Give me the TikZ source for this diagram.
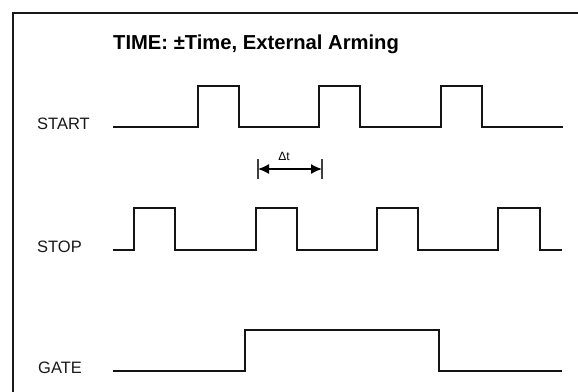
\documentclass[tikz,border=0pt]{standalone}
\usepackage{fontspec}
\setmainfont{Liberation Sans}
\usetikzlibrary{arrows.meta}
\begin{document}
\begin{tikzpicture}[x=1pt,y=-1pt,
  wave/.style={line width=2.6pt, line join=miter, line cap=butt, black!92},
  lbl/.style={anchor=base west, inner sep=0pt, font=\fontsize{16.5}{19}\selectfont, black!90},
  bar/.style={line width=1.4pt, black!75},
  dim/.style={line width=1.5pt, {Latex[length=11pt,width=10pt]}-{Latex[length=11pt,width=10pt]}}
 ]
\useasboundingbox (0,0) rectangle (578,391);
\clip (0,0) rectangle (578,391);
\fill[white] (0,0) rectangle (578,391);
% frame (continues past the right and bottom edges)
\draw[line width=2.2pt, black!90] (12.7,400) -- (12.7,12.7) -- (590,12.7);
% title
\node[anchor=base west, inner sep=0pt, font=\bfseries\fontsize{20.2}{23}\selectfont] (title) at (113,49) {TIME: ±Time, External Arming};
% labels
\node[lbl] (start) at (37,129.5) {START};
\node[lbl] (stop) at (37,252.5) {STOP};
\node[lbl] (gate) at (38,373.5) {GATE};
% START waveform
\draw[wave] (113,127) -- (198,127) -- (198,86) -- (239,86) -- (239,127)
  -- (319,127) -- (319,86) -- (360,86) -- (360,127)
  -- (441,127) -- (441,86) -- (482,86) -- (482,127) -- (563,127);
% STOP waveform
\draw[wave] (113,250) -- (134,250) -- (134,208) -- (175,208) -- (175,250)
  -- (256,250) -- (256,208) -- (297,208) -- (297,250)
  -- (377,250) -- (377,208) -- (418,208) -- (418,250)
  -- (498,250) -- (498,208) -- (540,208) -- (540,250) -- (562,250);
% GATE waveform
\draw[wave] (113,371) -- (245,371) -- (245,330) -- (439,330) -- (439,371) -- (562,371);
% delta t dimension
\coordinate (dl) at (258,169);
\coordinate (dr) at (322,169);
\draw[bar] ([yshift=-9.5pt]dl) -- ([yshift=10pt]dl);
\draw[bar] ([yshift=-9.5pt]dr) -- ([yshift=10pt]dr);
\draw[dim] (dl) -- (dr);
\node[anchor=base, inner sep=0pt, font=\fontsize{12}{14}\selectfont] (dt) at (284,160) {Δt};
\end{tikzpicture}
\end{document}
